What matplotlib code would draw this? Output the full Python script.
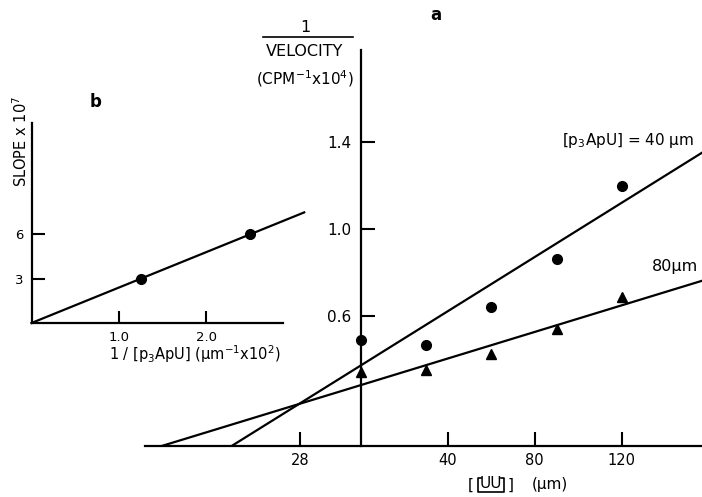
import matplotlib
matplotlib.use('Agg')
import matplotlib.pyplot as plt
import numpy as np

W, H = 702, 497

# ---------------- Panel a data ----------------
uu_conc = [0, 30, 60, 90, 120]
inv_v_40 = [0.487, 0.464, 0.642, 0.863, 1.198]
inv_v_80 = [0.341, 0.350, 0.424, 0.539, 0.688]
fit_40 = (0.00624, 0.372)   # slope, intercept
fit_80 = (0.00306, 0.281)
xticks_a = [-28, 40, 80, 120]
xticklabels_a = ['28', '40', '80', '120']
yticks_a = [0.6, 1.0, 1.4]
yticklabels_a = ['0.6', '1.0', '1.4']

# ---------------- Panel b data ----------------
inv_p3apu = [1.25, 2.5]
slope_vals = [3, 6]
fit_b = 2.4
xticks_b = [1.0, 2.0]
xticklabels_b = ['1.0', '2.0']
yticks_b = [3, 6]
yticklabels_b = ['3', '6']

plt.rcParams['font.family'] = ['DejaVu Sans']

fig = plt.figure(figsize=(W / 100, H / 100), dpi=100)


def fx(px):
    return px / W


def fy(py):
    return 1 - py / H


# ---------------- Main panel a ----------------
XMIN, XMAX = -99.5, 157
ax = fig.add_axes([fx(145), fy(446), (702 - 145) / W, (446 - 50) / H])
ax.set_xlim(XMIN, XMAX)
ax.set_ylim(0, 1.825)
for s in ['top', 'right']:
    ax.spines[s].set_visible(False)
ax.spines['left'].set_position(('data', 0))
for s in ['left', 'bottom']:
    ax.spines[s].set_linewidth(1.6)
ax.set_xticks(xticks_a)
ax.set_xticklabels(xticklabels_a, fontsize=10.5)
ax.set_yticks(yticks_a)
ax.set_yticklabels(yticklabels_a, fontsize=11)
ax.tick_params(axis='both', direction='in', length=10, width=1.5)
ax.tick_params(axis='x', pad=5)
ax.tick_params(axis='y', pad=7)

for (s, b) in [fit_40, fit_80]:
    xs = np.array([-b / s, XMAX])
    ax.plot(xs, s * xs + b, color='black', lw=1.6)
ax.plot(uu_conc, inv_v_40, 'o', color='black', ms=7, clip_on=False)
ax.plot(uu_conc, inv_v_80, '^', color='black', ms=7, clip_on=False)

# ---------------- Inset panel b ----------------
ax2 = fig.add_axes([fx(31.5), fy(323), 251.2 / W, 199.7 / H])
ax2.set_xlim(0, 2.874)
ax2.set_ylim(0, 13.52)
for s in ['top', 'right']:
    ax2.spines[s].set_visible(False)
for s in ['left', 'bottom']:
    ax2.spines[s].set_linewidth(1.6)
ax2.set_xticks(xticks_b)
ax2.set_xticklabels(xticklabels_b, fontsize=9.5)
ax2.set_yticks(yticks_b)
ax2.set_yticklabels(yticklabels_b, fontsize=9.5)
ax2.tick_params(axis='both', direction='in', length=9, width=1.5)
ax2.tick_params(axis='x', pad=6)
ax2.tick_params(axis='y', pad=6)
ax2.patch.set_alpha(0)
xb = np.array([0, 3.12])
ax2.plot(xb, fit_b * xb, color='black', lw=1.6, clip_on=False)
ax2.plot(inv_p3apu, slope_vals, 'o', color='black', ms=7, clip_on=False)

# ---------------- Texts ----------------
fig.text(fx(436), fy(15), 'a', fontsize=12, fontweight='bold', ha='center', va='center')
fig.text(fx(96), fy(102), 'b', fontsize=12, fontweight='bold', ha='center', va='center')

fig.text(fx(305), fy(27), '1', fontsize=11.5, ha='center', va='center')
fig.add_artist(plt.Line2D([fx(263), fx(353)], [fy(37), fy(37)], color='black', lw=1.2))
fig.text(fx(305), fy(51), 'VELOCITY', fontsize=11.5, ha='center', va='center')
fig.text(fx(305), fy(79), r'(CPM$^{-1}$x10$^{4}$)', fontsize=11, ha='center', va='center')

fig.text(fx(21), fy(141), r'SLOPE x 10$^{7}$', fontsize=10.5, rotation=90, ha='center', va='center')
fig.text(fx(195), fy(354), r'1 / [p$_3$ApU] (µm$^{-1}$x10$^{2}$)', fontsize=10.5, ha='center', va='center')

fig.text(fx(628), fy(141), r'[p$_3$ApU] = 40 µm', fontsize=11, ha='center', va='center')
fig.text(fx(652), fy(266), '80µm', fontsize=11.5, ha='left', va='center')

# x label of panel a: [ UU ] (µm) with underline bracket
fig.text(fx(471), fy(485), '[', fontsize=11, ha='center', va='center')
fig.text(fx(491), fy(484), 'UU', fontsize=11, ha='center', va='center')
fig.text(fx(511), fy(485), ']', fontsize=11, ha='center', va='center')
fig.text(fx(550), fy(485), '(µm)', fontsize=11, ha='center', va='center')
fig.add_artist(plt.Line2D([fx(481), fx(478), fx(478), fx(504), fx(504), fx(501)],
                          [fy(478), fy(478), fy(492), fy(492), fy(478), fy(478)],
                          color='black', lw=1.2))

fig.savefig('out.png', dpi=100)
